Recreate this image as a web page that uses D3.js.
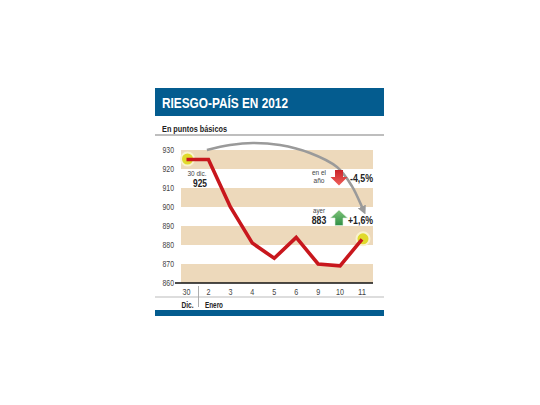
<!DOCTYPE html>
<html>
<head>
<meta charset="utf-8">
<script src="https://cdn.jsdelivr.net/npm/d3@7"></script>
<style>
  html, body { margin: 0; padding: 0; background: #fff; }
  text { font-family: "Liberation Sans", sans-serif; }
</style>
</head>
<body>
<div id="chart"></div>
<script>
// Datos
const days = ["30", "2", "3", "4", "5", "6", "9", "10", "11"];
const values = [925, 925, 900, 881, 873, 884, 870, 869, 883];
const yTicks = [860, 870, 880, 890, 900, 910, 920, 930];
const bands = [[930, 920], [910, 900], [890, 880], [870, 860]];
// curva gris: posicion (indice de dia, puntos)
const arcIdx = [0.93, 1.98, 3.03, 4.26, 5.63, 6.86, 7.54, 8.0, 8.04];
const arcVal = [930, 932.6, 933.7, 932.6, 928.4, 921, 911, 900, 899];

const width = 540, height = 405;

const svg = d3.select("#chart")
  .append("svg")
  .attr("width", width)
  .attr("height", height)
  .style("display", "block");

const x = d3.scalePoint().domain(d3.range(days.length)).range([186.5, 362]);
const y = d3.scaleLinear().domain([860, 930]).range([283, 150]);

// Textos (fuente condensada: se ajusta el ancho)
function label(tx, ty, str, size, bold, anchor, color, w) {
  const t = svg.append("text")
    .attr("x", tx).attr("y", ty)
    .attr("text-anchor", anchor)
    .attr("font-size", size)
    .attr("font-weight", bold ? "bold" : "normal")
    .attr("fill", color)
    .text(str);
  if (w) t.attr("textLength", w).attr("lengthAdjust", "spacingAndGlyphs");
  return t;
}

// Cabecera
svg.append("rect").attr("x", 155).attr("y", 88).attr("width", 229).attr("height", 28).attr("fill", "#045c8f");
label(162, 108, "RIESGO-PAÍS EN 2012", 14.5, true, "start", "#fff", 126);
label(162, 132, "En puntos básicos", 9, true, "start", "#222", 65);
svg.append("line").attr("x1", 155).attr("x2", 384).attr("y1", 135).attr("y2", 135)
  .attr("stroke", "#a8a8a8").attr("stroke-width", 1.3);

// Bandas
svg.selectAll("rect.band")
  .data(bands)
  .enter()
  .append("rect")
  .attr("class", "band")
  .attr("x", 181)
  .attr("width", 192)
  .attr("y", d => y(d[0]))
  .attr("height", d => y(d[1]) - y(d[0]))
  .attr("fill", "#edd9bb");

// Eje Y
const yAxis = svg.append("g")
  .attr("transform", "translate(175,0)")
  .call(d3.axisLeft(y).tickValues(yTicks).tickSize(0).tickPadding(1));
yAxis.select(".domain").remove();
yAxis.selectAll("text")
  .attr("font-size", 8.5)
  .attr("font-family", "Liberation Sans")
  .attr("fill", "#444")
  .attr("textLength", 11.5)
  .attr("lengthAdjust", "spacingAndGlyphs");

// Eje X
svg.append("line").attr("x1", 175).attr("x2", 373).attr("y1", y(860)).attr("y2", y(860))
  .attr("stroke", "#111").attr("stroke-width", 1.5);
svg.selectAll("text.day")
  .data(days)
  .enter()
  .append("text")
  .attr("class", "day")
  .attr("x", (d, i) => x(i))
  .attr("y", 295)
  .attr("text-anchor", "middle")
  .attr("font-size", 8.5)
  .attr("fill", "#444")
  .attr("textLength", d => d.length * 4)
  .attr("lengthAdjust", "spacingAndGlyphs")
  .text(d => d);

svg.append("line").attr("x1", 198.5).attr("x2", 198.5).attr("y1", 286).attr("y2", 307)
  .attr("stroke", "#999").attr("stroke-width", 0.8);
svg.append("line").attr("x1", 155).attr("x2", 384).attr("y1", 297).attr("y2", 297)
  .attr("stroke", "#aaa").attr("stroke-width", 0.8);
label(187.5, 308, "Dic.", 8.5, true, "middle", "#222", 12);
label(205, 308, "Enero", 8.5, true, "start", "#222", 18);
svg.append("rect").attr("x", 155).attr("y", 310).attr("width", 229).attr("height", 6).attr("fill", "#045c8f");

// Puntos resaltados
const marked = [0, days.length - 1];
svg.selectAll("circle.mark")
  .data(marked)
  .enter()
  .append("circle")
  .attr("class", "mark")
  .attr("cx", d => x(d) + 1)
  .attr("cy", d => y(values[d]) - 0.5)
  .attr("r", 6.5)
  .attr("fill", "#e0da2c")
  .attr("stroke", "#f9f3cf")
  .attr("stroke-width", 2);

// Curva gris con flecha
const defs = svg.append("defs");
defs.append("marker").attr("id", "head")
  .attr("viewBox", "0 0 10 10").attr("refX", 3).attr("refY", 5)
  .attr("markerWidth", 3.4).attr("markerHeight", 3.4).attr("orient", "auto")
  .attr("markerUnits", "strokeWidth")
  .append("path").attr("d", "M0,0L10,5L0,10Z").attr("fill", "#9a9a9a");

const arcLine = d3.line()
  .x(d => x(0) + d[0] * x.step())
  .y(d => y(d[1]))
  .curve(d3.curveCatmullRom);
svg.append("path")
  .datum(d3.zip(arcIdx, arcVal))
  .attr("fill", "none")
  .attr("stroke", "#9a9a9a")
  .attr("stroke-width", 2.6)
  .attr("marker-end", "url(#head)")
  .attr("d", arcLine);

// Linea
const line = d3.line()
  .x((d, i) => x(i))
  .y(d => y(d));
svg.append("path")
  .datum(values)
  .attr("fill", "none")
  .attr("stroke", "#c8171d")
  .attr("stroke-width", 3.6)
  .attr("stroke-linejoin", "miter")
  .attr("d", line);

// Flechas
const redGrad = defs.append("linearGradient").attr("id", "redg").attr("x1", 0).attr("x2", 0).attr("y1", 0).attr("y2", 1);
redGrad.append("stop").attr("offset", 0).attr("stop-color", "#c9242a");
redGrad.append("stop").attr("offset", 1).attr("stop-color", "#f0605a");
const greenGrad = defs.append("linearGradient").attr("id", "greeng").attr("x1", 0).attr("x2", 0).attr("y1", 0).attr("y2", 1);
greenGrad.append("stop").attr("offset", 0).attr("stop-color", "#7fc47a");
greenGrad.append("stop").attr("offset", 1).attr("stop-color", "#2f8f45");

svg.append("path").attr("transform", "translate(339,170)")
  .attr("d", "M-4,0H4V7H8.5L0,15.5L-8.5,7H-4Z").attr("fill", "url(#redg)");
svg.append("path").attr("transform", "translate(339,210)")
  .attr("d", "M0,0L8.5,8H4V15.5H-4V8H-8.5Z").attr("fill", "url(#greeng)")
  .attr("stroke", "#dfeedd").attr("stroke-width", 0.6);

label(197, 175.5, "30 dic.", 8, false, "middle", "#444", 19);
label(200, 186.5, "925", 10.5, true, "middle", "#222", 14);
label(319, 175, "en el", 7.5, false, "middle", "#444", 14);
label(319, 183, "año", 7.5, false, "middle", "#444", 11);
label(373, 181.5, "-4,5%", 10.5, true, "end", "#222", 23);
label(319, 212.5, "ayer", 7.5, false, "middle", "#444", 12);
label(319, 223.5, "883", 10.5, true, "middle", "#222", 14.5);
label(373, 223.5, "+1,6%", 10.5, true, "end", "#222", 25);
</script>
</body>
</html>
